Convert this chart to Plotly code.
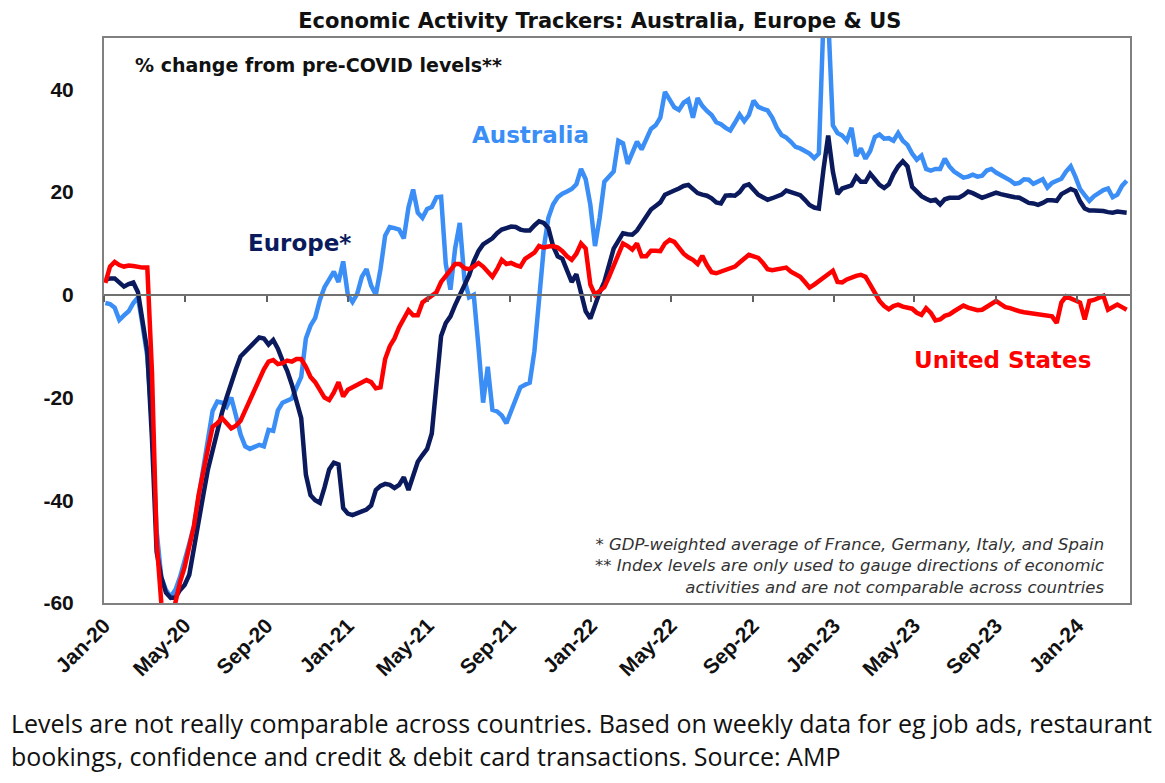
import pandas as pd
import plotly.graph_objects as go

# weekly readings, first week ending 2020-01-03
australia = [
    -1.6, -1.8, -2.5, -4.9, -4.0, -3.2, -1.6, -0.5, -6.0, -12.0,
    -25.0, -46.0, -55.0, -57.5, -58.8, -57.5, -55.0, -52.0, -48.5, -45.0,
    -39.5, -34.5, -28.5, -22.6, -20.8, -21.0, -21.8, -20.0, -23.5, -27.2,
    -29.5, -30.0, -29.6, -29.2, -29.5, -26.3, -26.5, -22.5, -21.0, -20.7,
    -20.2, -18.0, -16.0, -8.5, -6.0, -4.5, -1.0, 1.5, 3.2, 4.5,
    2.5, 6.5, 0.0, -1.4, 0.2, 3.5, 5.0, 1.8, 0.0, 5.0,
    11.5, 13.2, 13.0, 12.7, 11.0, 17.0, 20.5, 16.0, 15.0, 16.7,
    17.1, 19.0, 19.1, 6.0, 1.0, 9.0, 14.0, 3.0, -0.5, 0.0,
    -10.0, -21.0, -14.0, -22.4, -22.7, -23.5, -25.0, -22.5, -20.0, -18.0,
    -17.5, -17.1, -11.0, -1.0, 9.0, 15.0, 17.6, 19.0, 19.7, 20.1,
    20.6, 21.5, 24.5, 22.5, 17.5, 9.5, 15.0, 22.0, 22.9, 24.0,
    30.0, 29.5, 25.5, 27.5, 29.8, 28.3, 30.5, 32.3, 33.0, 34.5,
    39.5, 38.0, 36.5, 36.0, 37.4, 38.0, 34.5, 38.3, 36.8, 35.8,
    35.0, 33.6, 33.2, 32.5, 32.0, 33.5, 35.1, 33.8, 35.0, 37.8,
    36.6, 36.2, 35.9, 34.5, 32.5, 31.1, 30.6, 29.8, 28.8, 28.5,
    28.1, 27.5, 26.6, 27.5, 54.0, 54.0, 33.0, 31.5, 31.0, 30.0,
    32.5, 27.0, 28.5, 26.5, 28.0, 30.7, 31.2, 30.4, 30.5, 30.0,
    31.5, 30.0, 29.2, 27.5, 26.3, 27.1, 24.5, 24.2, 24.5, 24.5,
    26.5, 25.0, 24.0, 23.4, 22.8, 23.0, 23.4, 23.0, 23.2, 24.2,
    24.5, 23.8, 23.3, 22.9, 22.3, 21.6, 21.8, 22.5, 22.4, 21.6,
    22.0, 22.5, 20.9, 21.8, 22.2, 22.6, 24.0, 25.0, 23.0, 20.6,
    19.4, 18.3, 19.2, 19.8, 20.4, 20.7, 19.0, 19.5, 21.2, 22.2,
]

europe = [
    2.9, 3.2, 3.2, 2.3, 1.6, 2.1, 2.4, 0.5, -5.0, -11.0,
    -28.0, -50.0, -55.0, -58.0, -59.0, -59.0, -57.5, -56.5, -54.5, -49.0,
    -44.0, -39.0, -34.0, -30.0, -26.5, -23.0, -20.0, -17.0, -14.5, -12.0,
    -11.0, -10.0, -9.2, -8.3, -8.5, -9.7, -8.8, -10.5, -12.8, -14.8,
    -17.5, -20.5, -24.0, -35.0, -39.0, -40.0, -40.5, -37.5, -34.0, -32.7,
    -33.0, -41.5, -42.6, -42.9, -42.5, -42.3, -41.8, -41.0, -38.0, -37.2,
    -36.8, -37.0, -37.6, -37.0, -35.5, -38.0, -35.0, -32.5, -31.2, -30.0,
    -27.0, -18.0, -8.0, -5.5, -4.2, -2.0, 0.0, 2.0, 3.8, 6.5,
    8.5, 9.8, 10.5, 11.0, 12.0, 12.7, 13.0, 13.3, 13.2, 12.7,
    12.5, 12.5, 13.5, 14.3, 14.0, 13.0, 9.5, 7.5, 7.0, 4.5,
    2.5, 4.0, 0.0, -3.2, -4.6, -1.8, 0.5, 2.5, 6.0, 9.0,
    10.5, 12.0, 11.8, 11.7, 12.5, 14.0, 15.5, 16.6, 17.3, 18.0,
    19.5, 20.0, 20.3, 20.7, 21.2, 21.4, 20.5, 19.8, 19.5, 19.3,
    18.8, 18.0, 17.8, 19.3, 19.4, 19.3, 20.0, 21.2, 21.5, 20.4,
    19.5, 19.0, 18.5, 18.8, 19.1, 19.5, 20.3, 20.0, 19.7, 19.4,
    18.5, 17.5, 17.0, 16.8, 24.5, 31.0, 24.0, 19.6, 20.7, 21.0,
    21.3, 23.0, 22.0, 22.0, 23.6, 22.5, 21.4, 20.8, 21.5, 23.5,
    25.0, 26.0, 25.0, 21.0, 20.0, 19.2, 18.7, 18.3, 18.5, 17.6,
    18.6, 18.9, 18.9, 18.9, 19.4, 20.1, 19.8, 19.3, 18.9, 19.2,
    19.6, 19.9, 19.6, 19.3, 19.2, 19.0, 18.9, 18.4, 17.9, 17.8,
    17.5, 17.9, 18.4, 18.4, 18.3, 19.6, 20.2, 20.6, 20.2, 18.2,
    16.8, 16.4, 16.4, 16.4, 16.3, 16.1, 16.0, 16.2, 16.0, 16.0,
]

united_states = [
    2.3, 5.5, 6.4, 5.8, 5.5, 5.7, 5.6, 5.4, 5.3, 5.3,
    -15.0, -48.0, -60.0, -65.0, -64.0, -60.0, -56.0, -53.0, -49.0, -45.0,
    -39.0, -34.0, -30.0, -25.7, -25.0, -24.0, -25.0, -26.0, -25.5, -24.5,
    -22.5, -20.5, -18.5, -16.0, -14.5, -13.0, -12.7, -13.5, -13.3, -12.8,
    -13.0, -12.5, -12.5, -14.0, -16.0, -17.0, -18.5, -20.0, -20.5, -19.0,
    -17.0, -19.8, -18.5, -18.0, -17.5, -17.0, -16.6, -17.0, -18.2, -18.0,
    -12.5, -10.0, -8.5, -6.3, -4.5, -3.0, -4.0, -4.0, -1.5, -0.8,
    0.0, 0.5, 2.5, 3.5, 4.8, 6.0, 6.0, 5.2, 5.0, 5.5,
    6.2, 5.5, 4.5, 3.5, 5.0, 6.8, 6.0, 6.2, 5.8, 5.5,
    7.0, 7.5, 8.2, 9.5, 9.2, 9.4, 9.5, 9.2, 8.5, 7.5,
    6.8, 8.0, 10.0, 9.0, 2.0, 0.0, 0.8, 1.5, 3.5, 5.8,
    8.0, 10.0, 9.5, 8.8, 10.0, 7.5, 7.5, 8.6, 8.6, 8.5,
    10.0, 10.7, 10.3, 9.0, 8.0, 7.3, 6.8, 6.0, 7.6, 5.8,
    4.4, 4.2, 4.5, 4.8, 5.1, 5.5, 6.3, 7.0, 7.8, 7.5,
    7.2, 6.2, 5.0, 4.8, 5.0, 5.2, 5.3, 4.5, 4.0, 3.5,
    2.5, 1.4, 2.0, 2.7, 3.3, 4.0, 4.7, 2.5, 2.4, 3.0,
    3.4, 3.7, 3.9, 3.5, 2.0, 0.5, -1.2, -2.2, -2.8, -2.2,
    -1.9, -2.3, -2.5, -2.7, -3.5, -3.9, -2.6, -3.5, -5.0, -4.8,
    -4.1, -3.8, -3.2, -2.6, -2.1, -2.5, -2.8, -3.0, -2.9, -2.3,
    -1.7, -1.2, -1.8, -2.4, -2.6, -3.0, -3.2, -3.4, -3.5, -3.6,
    -3.7, -3.8, -4.0, -4.2, -5.5, -1.5, -0.3, -0.7, -1.2, -1.5,
    -4.8, -1.2, -1.0, -0.5, -0.2, -2.9, -2.4, -1.9, -2.4, -2.9,
]

dates = pd.date_range("2020-01-03", periods=len(australia), freq="7D")

tick_dates = ["2020-01-01", "2020-05-01", "2020-09-01", "2021-01-01", "2021-05-01",
              "2021-09-01", "2022-01-01", "2022-05-01", "2022-09-01", "2023-01-01",
              "2023-05-01", "2023-09-01", "2024-01-01"]
tick_labels = ["Jan-20", "May-20", "Sep-20", "Jan-21", "May-21", "Sep-21", "Jan-22",
               "May-22", "Sep-22", "Jan-23", "May-23", "Sep-23", "Jan-24"]
y_ticks = [-60, -40, -20, 0, 20, 40]
y_labels = ["-60", "-40", "-20", "0", "20", "40"]

x_range = ["2020-01-01", "2024-03-20"]
y_range = [-60, 50]

AUS_BLUE = "#3a8ef6"
EU_NAVY = "#0a1a5c"
US_RED = "#ff0000"
BOLD = "Liberation Sans"
WIDE = "DejaVu Sans"

fig = go.Figure()

fig.add_trace(go.Scatter(x=dates, y=australia, mode="lines", name="Australia",
                         line=dict(color=AUS_BLUE, width=4.5)))
fig.add_trace(go.Scatter(x=dates, y=europe, mode="lines", name="Europe",
                         line=dict(color=EU_NAVY, width=4.5)))
fig.add_trace(go.Scatter(x=dates, y=united_states, mode="lines", name="United States",
                         line=dict(color=US_RED, width=4.5)))

# zero line carrying the small tick marks
zero_pos = (0 - y_range[0]) / (y_range[1] - y_range[0])

fig.update_layout(
    width=1165, height=783,
    margin=dict(l=96, r=43, t=30, b=188),
    paper_bgcolor="white", plot_bgcolor="white",
    showlegend=False,
    title=dict(text="<b>Economic Activity Trackers: Australia, Europe & US</b>",
               x=0.508, xanchor="center", y=0.984, yanchor="middle",
               font=dict(family=WIDE, size=21, color="#111111")),
    xaxis=dict(range=x_range, type="date", tickmode="array",
               tickvals=tick_dates, ticktext=tick_labels, tickangle=-45,
               ticks="", showgrid=False, zeroline=False,
               showline=True, linecolor="#808080", linewidth=2, mirror=True,
               tickfont=dict(family=BOLD, size=21, color="#111111", weight="bold")),
    xaxis2=dict(range=x_range, type="date", overlaying="x", anchor="free",
                position=zero_pos, side="bottom", tickmode="array",
                tickvals=tick_dates, showticklabels=False,
                ticks="outside", ticklen=6, tickwidth=1.5, tickcolor="#606060",
                showline=True, linecolor="#707070", linewidth=1.5,
                showgrid=False, zeroline=False),
    yaxis=dict(range=y_range, tickmode="array", tickvals=y_ticks, ticktext=y_labels,
               ticks="", showgrid=False, zeroline=False,
               showline=True, linecolor="#808080", linewidth=2, mirror=True,
               ticklabelstandoff=24,
               tickfont=dict(family=BOLD, size=21, color="#111111", weight="bold")),
)

# empty trace on the overlay axis so it gets drawn
fig.add_trace(go.Scatter(x=[], y=[], xaxis="x2", showlegend=False, hoverinfo="skip"))

fig.add_annotation(text="<b>% change from pre-COVID levels**</b>", xref="paper", yref="paper",
                   x=0.028, y=0.952, xanchor="left", yanchor="middle", showarrow=False,
                   font=dict(family=WIDE, size=19, color="#111111"))
fig.add_annotation(text="<b>Australia</b>", xref="paper", yref="paper",
                   x=0.416, y=0.828, xanchor="center", yanchor="middle", showarrow=False,
                   font=dict(family=WIDE, size=23, color=AUS_BLUE))
fig.add_annotation(text="<b>Europe*</b>", xref="paper", yref="paper",
                   x=0.191, y=0.637, xanchor="center", yanchor="middle", showarrow=False,
                   font=dict(family=WIDE, size=23, color=EU_NAVY))
fig.add_annotation(text="<b>United States</b>", xref="paper", yref="paper",
                   x=0.876, y=0.430, xanchor="center", yanchor="middle", showarrow=False,
                   font=dict(family=WIDE, size=23, color=US_RED))
fig.add_annotation(
    text="<i>* GDP-weighted average of France, Germany, Italy, and Spain<br>"
         "** Index levels are only used to gauge directions of economic<br>"
         "activities and are not comparable across countries</i>",
    xref="paper", yref="paper", x=0.9776, y=0.124, xanchor="right", yanchor="top",
    align="right", showarrow=False,
    font=dict(family=WIDE, size=16.5, color="#333333"))
fig.add_annotation(
    text="Levels are not really comparable across countries. Based on weekly data for eg job ads, restaurant<br>"
         "bookings, confidence and credit &amp; debit card transactions. Source: AMP",
    xref="paper", yref="paper", x=-0.0926, y=-0.178, xanchor="left", yanchor="top",
    align="left", showarrow=False,
    font=dict(family="Open Sans", size=25, color="#111111"))

fig.write_html("out.html")
